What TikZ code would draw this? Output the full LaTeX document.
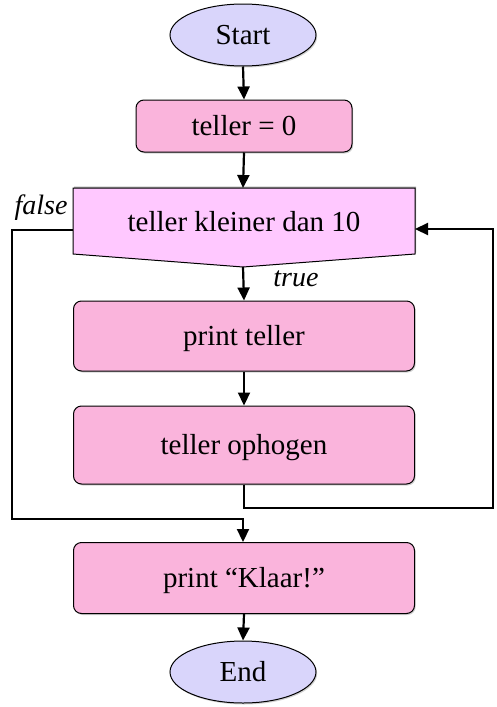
\documentclass[tikz,border=0pt]{standalone}
\usepackage{fontspec}
\setmainfont{Liberation Serif}
\usetikzlibrary{arrows.meta,shapes.geometric,shadows}
\definecolor{boxpink}{HTML}{FAB4DC}
\definecolor{decpink}{HTML}{FFC8FF}
\definecolor{ovalblue}{HTML}{D9D5FB}
\tikzset{
  txt/.style={font=\fontsize{29}{34}\selectfont, text=black, text height=19pt, text depth=0pt},
  base/.style={txt, draw=black, line width=1pt,
    drop shadow={shadow xshift=1.2pt, shadow yshift=-1.5pt, opacity=0.35}},
  procbox/.style={base, rectangle, rounded corners=8pt, fill=boxpink, minimum width=341pt},
  terminal/.style={base, ellipse, fill=ovalblue, minimum width=146pt, minimum height=62pt, inner sep=0pt},
  conn/.style={line width=2.2pt, -{Triangle[width=12pt,length=13pt]}},
  lbl/.style={font=\fontsize{28}{32}\selectfont\itshape}
}
\begin{document}
\begin{tikzpicture}[x=1pt,y=-1pt]
\useasboundingbox (0,0) rectangle (496,707);
\fill[white] (0,0) rectangle (496,707);
% nodes
\node[terminal] (start) at (243,35) {Start};
\node[procbox, minimum width=216pt, minimum height=52pt] (t0) at (244,126) {teller = 0};
% decision shape
\coordinate (dtl) at (73,188);
\coordinate (dtr) at (415,188);
\coordinate (dbr) at (415,254);
\coordinate (dtip) at (243,267);
\coordinate (dbl) at (73,254);
\coordinate (dtop) at (243,188);
\coordinate (dright) at (415,229);
\coordinate (dleft) at (73,230);
\fill[black, opacity=0.35] ([xshift=1.2pt,yshift=1.5pt]dtl) -- ([xshift=1.2pt,yshift=1.5pt]dtr) -- ([xshift=1.2pt,yshift=1.5pt]dbr) -- ([xshift=1.2pt,yshift=1.5pt]dtip) -- ([xshift=1.2pt,yshift=1.5pt]dbl) -- cycle;
\draw[line width=1pt, fill=decpink] (dtl) -- (dtr) -- (dbr) -- (dtip) -- (dbl) -- cycle;
\node[txt] (dec) at (244,222) {teller kleiner dan 10};
\node[procbox, minimum height=70pt] (pt) at (244,336) {print teller};
\node[procbox, minimum height=78pt] (op) at (244,445) {teller ophogen};
\node[procbox, minimum height=71pt] (pk) at (244,578) {print \char"201CKlaar!\char"201D};
\node[terminal] (end) at (243,672) {End};
% labels
\node[lbl] (lfalse) at (41,208) {false};
\node[lbl] (ltrue) at (296,279) {true};
% connectors
\draw[conn] (start.south) -- (t0.north);
\draw[conn] (t0.south) -- (dtop);
\draw[conn] (dtip) -- (pt.north);
\draw[conn] (pt.south) -- (op.north);
\coordinate (loopB) at (493,508);
\coordinate (loopC) at (493,229);
\draw[conn] (op.south) |- (loopB) -- (loopC) -- (dright);
\coordinate (fA) at (12,230);
\coordinate (fB) at (12,519);
\coordinate (fC) at (243,519);
\draw[conn] (dleft) -- (fA) -- (fB) -- (fC) -- (pk.north -| fC);
\draw[conn] (pk.south) -- (end.north);
\end{tikzpicture}
\end{document}
